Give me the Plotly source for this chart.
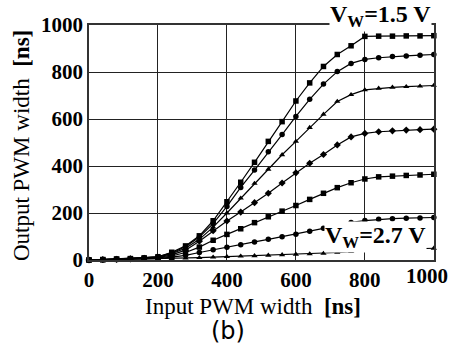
import plotly.graph_objects as go

x_ns = [0, 40, 80, 120, 160, 200, 240, 280, 320, 360, 400, 440, 480, 520, 560,
        600, 640, 680, 720, 760, 800, 840, 880, 920, 960, 1000]

vw_1_5 = [0, 2, 4, 6, 9, 14, 33, 60, 103, 167, 248, 331, 416, 505, 589,
          677, 754, 824, 875, 912, 952, 953, 953, 954, 954, 955]
vw_1_7 = [0, 2, 4, 6, 9, 13, 30, 56, 98, 155, 228, 309, 383, 461, 534,
          611, 684, 749, 802, 837, 854, 861, 866, 869, 872, 875]
vw_1_9 = [0, 2, 4, 6, 8, 12, 27, 50, 88, 140, 200, 263, 326, 386, 448,
          505, 564, 620, 675, 704, 724, 731, 735, 738, 740, 743]
vw_2_1 = [0, 2, 3, 5, 7, 10, 22, 42, 80, 125, 166, 204, 244, 284, 328,
          371, 412, 449, 490, 524, 539, 546, 550, 553, 555, 557]
vw_2_3 = [0, 1, 3, 4, 6, 8, 17, 32, 55, 84, 109, 133, 159, 184, 208,
          232, 258, 284, 308, 329, 345, 354, 357, 360, 362, 365]
vw_2_5 = [0, 1, 2, 3, 4, 6, 12, 20, 32, 44, 54, 65, 77, 88, 99,
          110, 122, 135, 148, 160, 168, 173, 176, 178, 179, 181]
vw_2_7 = [0, 1, 1, 2, 3, 4, 6, 8, 10, 12, 14, 16, 18, 20, 22,
          24, 26, 28, 32, 36, 40, 43, 45, 46, 47, 50]

series = [
    ("V_W=1.5 V", vw_1_5, "square"),
    ("V_W=1.7 V", vw_1_7, "circle"),
    ("V_W=1.9 V", vw_1_9, "triangle-up"),
    ("V_W=2.1 V", vw_2_1, "diamond"),
    ("V_W=2.3 V", vw_2_3, "square"),
    ("V_W=2.5 V", vw_2_5, "circle"),
    ("V_W=2.7 V", vw_2_7, "triangle-up"),
]

x_ticks = [0, 200, 400, 600, 800, 1000]
y_ticks = [0, 200, 400, 600, 800, 1000]

fig = go.Figure()
for name, vals, sym in series:
    fig.add_trace(go.Scatter(
        x=x_ns, y=vals, name=name, mode="lines+markers",
        line=dict(color="black", width=1.2),
        marker=dict(symbol=sym, size=5.5, color="black"),
        cliponaxis=False, showlegend=False,
    ))

serif = "Liberation Serif"
tickf = dict(family=serif, size=21, color="black")
fig.update_layout(
    width=452, height=354,
    margin=dict(l=89, r=18, t=25, b=94, autoexpand=False),
    paper_bgcolor="white", plot_bgcolor="white",
    font=dict(family=serif, color="black"),
)
common = dict(
    range=[0, 1000.5], tickfont=tickf,
    showgrid=True, gridcolor="#222", gridwidth=1,
    showline=True, linecolor="#333", linewidth=1.5, mirror=True,
    zeroline=False, ticks="", automargin=False, ticklabeloverflow="allow",
)
# the last x label is drawn as an annotation, nudged left to fit the page
fig.update_xaxes(tickvals=x_ticks,
                 ticktext=[f"<b>{v}</b>" if v != x_ticks[-1] else "" for v in x_ticks],
                 **common)
fig.update_yaxes(tickvals=y_ticks, ticktext=[f"<b>{v}</b>" for v in y_ticks], **common)

fig.add_annotation(x=0.98, y=-0.068, xref="paper", yref="paper",
                   xanchor="center", yanchor="middle",
                   text=f"<b>{x_ticks[-1]}</b>", showarrow=False,
                   font=tickf)
fig.add_annotation(x=-0.197, y=0.485, xref="paper", yref="paper",
                   xanchor="center", yanchor="middle",
                   text="Output PWM width  <b>[ns]</b>", textangle=-90,
                   showarrow=False,
                   font=dict(family=serif, size=23, color="black"))
fig.add_annotation(x=0.475, y=-0.196, xref="paper", yref="paper",
                   xanchor="center", yanchor="middle",
                   text="Input PWM width  <b>[ns]</b>", showarrow=False,
                   font=dict(family=serif, size=23, color="black"))
fig.add_annotation(x=0.846, y=1.04, xref="paper", yref="paper",
                   xanchor="center", yanchor="middle",
                   text="<b>V<sub>W</sub>=1.5 V</b>", showarrow=False,
                   font=dict(family=serif, size=24, color="black"),
                   bgcolor="white", borderpad=0)
fig.add_annotation(x=0.83, y=0.098, xref="paper", yref="paper",
                   xanchor="center", yanchor="middle",
                   text="<b>V<sub>W</sub>=2.7 V</b>", showarrow=False,
                   font=dict(family=serif, size=24, color="black"),
                   bgcolor="white", borderpad=0)
fig.add_annotation(x=0.403, y=-0.30, xref="paper", yref="paper",
                   xanchor="center", yanchor="middle",
                   text="(b)", showarrow=False,
                   font=dict(family="DejaVu Sans", size=24, color="black"))

fig.write_html("out.html", config={"displayModeBar": False},
               post_script="document.body.style.margin='0';document.body.style.padding='0';")
